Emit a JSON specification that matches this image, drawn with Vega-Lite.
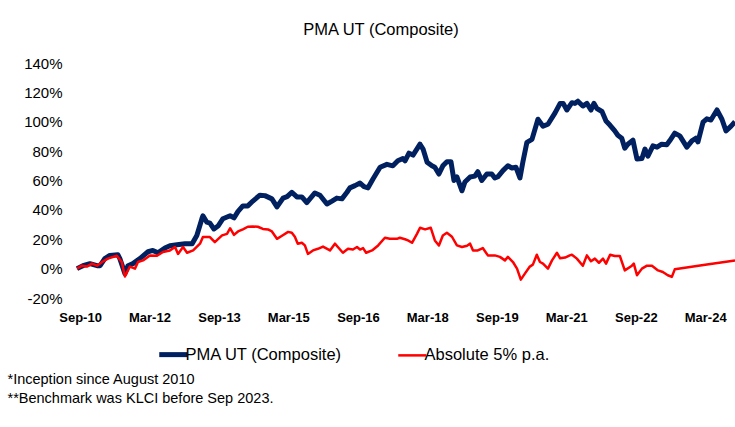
{
  "$schema": "https://vega.github.io/schema/vega-lite/v6.json",
  "autosize": {"type": "none"},
  "width": 658,
  "height": 235,
  "padding": {"left": 77, "top": 63, "right": 0, "bottom": 129},
  "background": "white",
  "config": {"font": "Liberation Sans", "view": {"stroke": null}},
  "title": {"text": "PMA UT (Composite)", "fontSize": 16.5, "fontWeight": "normal", "color": "#000000", "offset": 18, "dx": -25},
  "datasets": {
    "pma": [
      {"d":"2010-08-08","v":0},{"d":"2010-09-24","v":2},{"d":"2010-11-18","v":3.4},{"d":"2011-01-13","v":2},{"d":"2011-02-06","v":2},
      {"d":"2011-03-15","v":6.8},{"d":"2011-04-24","v":9},{"d":"2011-06-26","v":9.5},{"d":"2011-07-12","v":6.8},{"d":"2011-08-21","v":-3.4},
      {"d":"2011-09-14","v":2},{"d":"2011-10-23","v":3.4},{"d":"2011-12-17","v":6.8},{"d":"2012-02-19","v":11.5},{"d":"2012-03-28","v":12.4},
      {"d":"2012-05-07","v":10.8},{"d":"2012-07-01","v":14},{"d":"2012-08-10","v":15.6},{"d":"2012-10-05","v":16.3},{"d":"2012-12-07","v":17},
      {"d":"2013-02-01","v":17},{"d":"2013-03-10","v":22.6},{"d":"2013-04-19","v":34},{"d":"2013-04-27","v":36},{"d":"2013-05-28","v":31.6},
      {"d":"2013-06-21","v":31},{"d":"2013-07-23","v":27},{"d":"2013-08-24","v":29},{"d":"2013-10-02","v":34},{"d":"2013-11-27","v":36},
      {"d":"2013-12-28","v":34.6},{"d":"2014-01-29","v":39},{"d":"2014-03-08","v":42.7},{"d":"2014-04-16","v":42.7},{"d":"2014-05-26","v":46},
      {"d":"2014-07-20","v":50},{"d":"2014-08-29","v":49.7},{"d":"2014-10-23","v":47.5},{"d":"2014-12-02","v":42},{"d":"2015-01-19","v":48},
      {"d":"2015-02-20","v":49},{"d":"2015-03-29","v":52},{"d":"2015-05-08","v":48.8},{"d":"2015-06-16","v":48.8},{"d":"2015-07-25","v":45},
      {"d":"2015-09-27","v":51.5},{"d":"2015-11-06","v":50},{"d":"2015-12-31","v":44},{"d":"2016-02-09","v":46},{"d":"2016-03-18","v":48},
      {"d":"2016-04-27","v":47.5},{"d":"2016-06-06","v":52},{"d":"2016-06-29","v":55},{"d":"2016-08-08","v":56.5},{"d":"2016-09-17","v":58.3},
      {"d":"2016-10-18","v":55.8},{"d":"2016-11-19","v":55},{"d":"2016-12-28","v":61},{"d":"2017-02-22","v":69},{"d":"2017-04-17","v":71},
      {"d":"2017-06-03","v":70},{"d":"2017-07-12","v":73.4},{"d":"2017-08-21","v":75},{"d":"2017-09-07","v":73.4},{"d":"2017-10-08","v":78.6},
      {"d":"2017-11-09","v":77.3},{"d":"2018-01-03","v":84.7},{"d":"2018-01-27","v":81.4},{"d":"2018-02-28","v":72.5},{"d":"2018-04-07","v":70},
      {"d":"2018-04-30","v":69},{"d":"2018-06-01","v":64.4},{"d":"2018-07-02","v":70},{"d":"2018-08-03","v":72.8},{"d":"2018-09-04","v":72.8},
      {"d":"2018-09-28","v":60},{"d":"2018-10-21","v":62.4},{"d":"2018-11-30","v":53},{"d":"2018-12-23","v":59},{"d":"2019-02-02","v":62.4},
      {"d":"2019-03-11","v":63},{"d":"2019-04-04","v":66},{"d":"2019-05-05","v":60},{"d":"2019-06-14","v":64.4},{"d":"2019-07-23","v":64.4},
      {"d":"2019-08-16","v":61.7},{"d":"2019-09-10","v":62.6},{"d":"2019-10-19","v":66.7},{"d":"2019-11-27","v":70},{"d":"2019-12-29","v":68.5},
      {"d":"2020-01-30","v":69},{"d":"2020-03-01","v":61.7},{"d":"2020-03-24","v":72.5},{"d":"2020-04-25","v":86},{"d":"2020-06-04","v":88},
      {"d":"2020-07-21","v":101.7},{"d":"2020-08-30","v":97},{"d":"2020-10-08","v":98.3},{"d":"2020-12-03","v":106},{"d":"2021-01-12","v":112.5},
      {"d":"2021-02-05","v":112.5},{"d":"2021-03-06","v":108},{"d":"2021-04-15","v":113},{"d":"2021-05-08","v":112.5},{"d":"2021-06-01","v":114},
      {"d":"2021-07-10","v":110.7},{"d":"2021-08-11","v":112.5},{"d":"2021-09-12","v":108},{"d":"2021-10-05","v":112.5},{"d":"2021-10-29","v":109},
      {"d":"2021-12-08","v":107},{"d":"2022-01-09","v":100.5},{"d":"2022-02-10","v":97.6},{"d":"2022-03-19","v":93.8},{"d":"2022-04-12","v":90.8},
      {"d":"2022-05-13","v":88.8},{"d":"2022-06-06","v":82},{"d":"2022-06-30","v":84.7},{"d":"2022-08-09","v":87.5},{"d":"2022-09-10","v":74.6},
      {"d":"2022-10-19","v":75},{"d":"2022-11-12","v":81.4},{"d":"2022-12-05","v":76.6},{"d":"2023-01-14","v":83.6},{"d":"2023-02-15","v":82.7},
      {"d":"2023-03-24","v":84.7},{"d":"2023-05-03","v":84.3},{"d":"2023-05-26","v":87},{"d":"2023-07-05","v":92.2},{"d":"2023-08-14","v":90.4},
      {"d":"2023-10-08","v":82.7},{"d":"2023-11-17","v":87},{"d":"2023-12-18","v":88.8},{"d":"2024-01-04","v":86.3},{"d":"2024-02-13","v":99.7},
      {"d":"2024-03-14","v":102},{"d":"2024-04-15","v":101.2},{"d":"2024-06-02","v":108},{"d":"2024-07-11","v":101.7},{"d":"2024-08-12","v":93.8},
      {"d":"2024-09-21","v":97},{"d":"2024-10-22","v":100}
    ],
    "abs": [
      {"d":"2010-08-08","v":0},{"d":"2010-09-16","v":2},{"d":"2010-10-25","v":1.4},{"d":"2010-12-04","v":3.4},{"d":"2011-01-13","v":2},
      {"d":"2011-02-22","v":4.5},{"d":"2011-04-08","v":6.8},{"d":"2011-06-18","v":8.8},{"d":"2011-07-27","v":4.5},{"d":"2011-08-21","v":-5.4},
      {"d":"2011-09-29","v":1.4},{"d":"2011-11-08","v":0},{"d":"2011-12-02","v":4.5},{"d":"2012-01-11","v":5.6},{"d":"2012-03-05","v":9},
      {"d":"2012-04-30","v":8.8},{"d":"2012-06-16","v":11.3},{"d":"2012-08-10","v":12.4},{"d":"2012-09-19","v":14.7},{"d":"2012-10-13","v":10},
      {"d":"2012-11-21","v":14.7},{"d":"2012-12-23","v":10.8},{"d":"2013-02-09","v":12.4},{"d":"2013-04-04","v":17},{"d":"2013-04-27","v":21.5},
      {"d":"2013-06-21","v":21.5},{"d":"2013-07-30","v":18},{"d":"2013-09-25","v":22.6},{"d":"2013-11-03","v":23.7},{"d":"2013-11-27","v":27.5},
      {"d":"2013-12-28","v":23},{"d":"2014-01-29","v":25.3},{"d":"2014-03-08","v":26.7},{"d":"2014-04-16","v":28.5},{"d":"2014-05-26","v":28.7},
      {"d":"2014-07-04","v":28.5},{"d":"2014-08-13","v":27},{"d":"2014-09-22","v":26.7},{"d":"2014-10-23","v":25.3},{"d":"2014-12-02","v":20.3},
      {"d":"2015-01-11","v":22.4},{"d":"2015-02-28","v":25},{"d":"2015-03-29","v":24.4},{"d":"2015-04-22","v":21.7},{"d":"2015-05-15","v":17},
      {"d":"2015-06-16","v":17.6},{"d":"2015-07-10","v":15.8},{"d":"2015-08-03","v":10},{"d":"2015-09-12","v":12.4},{"d":"2015-10-21","v":13.5},
      {"d":"2015-11-30","v":15},{"d":"2016-01-24","v":12.4},{"d":"2016-03-03","v":17},{"d":"2016-03-26","v":14.7},{"d":"2016-05-05","v":10.8},
      {"d":"2016-06-14","v":13.5},{"d":"2016-07-23","v":13},{"d":"2016-08-24","v":14.7},{"d":"2016-09-17","v":13},{"d":"2016-10-11","v":14},
      {"d":"2016-11-04","v":10.8},{"d":"2016-12-21","v":12.4},{"d":"2017-02-07","v":15.8},{"d":"2017-04-01","v":21},{"d":"2017-05-10","v":20.3},
      {"d":"2017-07-05","v":20.3},{"d":"2017-07-28","v":21},{"d":"2017-09-07","v":20},{"d":"2017-09-30","v":19.2},{"d":"2017-11-01","v":17.6},
      {"d":"2017-12-10","v":23.7},{"d":"2018-01-03","v":27.8},{"d":"2018-02-12","v":26.7},{"d":"2018-03-29","v":27.8},{"d":"2018-04-30","v":19.2},
      {"d":"2018-06-01","v":15.8},{"d":"2018-07-02","v":22.6},{"d":"2018-08-03","v":24.4},{"d":"2018-09-12","v":21.7},{"d":"2018-10-21","v":15.8},
      {"d":"2018-11-30","v":14.7},{"d":"2019-01-09","v":15.6},{"d":"2019-02-02","v":17},{"d":"2019-02-25","v":12.4},{"d":"2019-04-04","v":12.4},
      {"d":"2019-05-13","v":14},{"d":"2019-06-22","v":9},{"d":"2019-08-16","v":9},{"d":"2019-09-25","v":8},{"d":"2019-11-04","v":5.6},
      {"d":"2019-11-27","v":8},{"d":"2020-01-06","v":4.5},{"d":"2020-02-07","v":0},{"d":"2020-03-08","v":-7.5},{"d":"2020-04-09","v":-3.4},
      {"d":"2020-05-18","v":1.4},{"d":"2020-06-11","v":2.7},{"d":"2020-07-12","v":9.5},{"d":"2020-08-06","v":4.5},{"d":"2020-08-30","v":3.4},
      {"d":"2020-10-08","v":0},{"d":"2020-11-09","v":5.6},{"d":"2020-12-18","v":10.8},{"d":"2021-01-12","v":7},{"d":"2021-02-20","v":7.5},
      {"d":"2021-03-29","v":9},{"d":"2021-04-15","v":9.5},{"d":"2021-05-24","v":6.8},{"d":"2021-07-10","v":2},{"d":"2021-08-11","v":9},
      {"d":"2021-09-12","v":5},{"d":"2021-10-13","v":6.8},{"d":"2021-11-14","v":4},{"d":"2021-12-16","v":6.8},{"d":"2022-01-09","v":3.4},
      {"d":"2022-02-10","v":9.5},{"d":"2022-03-19","v":8.6},{"d":"2022-04-28","v":8.6},{"d":"2022-06-06","v":-1.2},{"d":"2022-08-01","v":2},
      {"d":"2022-08-16","v":3.4},{"d":"2022-09-10","v":-4.5},{"d":"2022-10-19","v":0},{"d":"2022-11-28","v":2},{"d":"2023-01-06","v":2},
      {"d":"2023-02-23","v":-1.2},{"d":"2023-04-02","v":-2.3},{"d":"2023-05-11","v":-4.5},{"d":"2023-06-12","v":-5.6},{"d":"2023-07-05","v":-0.5},
      {"d":"2024-03-01","v":2.6},{"d":"2024-10-22","v":5.6}
    ]
  },
  "encoding": {
    "x": {
      "field": "d", "type": "temporal",
      "scale": {"type": "utc", "domain": ["2010-08-08", "2024-10-22"], "nice": false},
      "axis": {
        "values": [
          {"year": 2010, "month": 9, "date": 1, "utc": true},
          {"year": 2012, "month": 3, "date": 1, "utc": true},
          {"year": 2013, "month": 9, "date": 1, "utc": true},
          {"year": 2015, "month": 3, "date": 1, "utc": true},
          {"year": 2016, "month": 9, "date": 1, "utc": true},
          {"year": 2018, "month": 3, "date": 1, "utc": true},
          {"year": 2019, "month": 9, "date": 1, "utc": true},
          {"year": 2021, "month": 3, "date": 1, "utc": true},
          {"year": 2022, "month": 9, "date": 1, "utc": true},
          {"year": 2024, "month": 3, "date": 1, "utc": true}
        ],
        "labelExpr": "utcFormat(datum.value, '%b-%y')",
        "domain": false, "ticks": false, "grid": false,
        "labelFontSize": 13, "labelFontWeight": "bold", "labelColor": "#000000",
        "labelPadding": 13, "labelFlush": false, "labelOverlap": false,
        "title": ["*Inception since August 2010", "**Benchmark was KLCI before Sep 2023."],
        "titleAnchor": "start", "titleAlign": "left", "titleBaseline": "top",
        "titleX": -70, "titleY": 74, "titleFontSize": 14.5, "titleFontWeight": "normal",
        "titleColor": "#000000", "titleLineHeight": 19
      }
    },
    "y": {
      "field": "v", "type": "quantitative",
      "scale": {"domain": [-20, 140], "nice": false, "zero": false},
      "axis": {
        "values": [-20, 0, 20, 40, 60, 80, 100, 120, 140],
        "labelExpr": "datum.value + '%'",
        "domain": false, "ticks": false, "grid": false,
        "labelFontSize": 15, "labelColor": "#000000", "labelPadding": 15,
        "title": null
      }
    }
  },
  "layer": [
    {
      "mark": {"type": "rule", "color": "#bfbfbf", "strokeWidth": 1.5},
      "encoding": {"y": {"datum": 0}, "x": null}
    },
    {
      "data": {"name": "pma"},
      "mark": {"type": "line", "strokeWidth": 5, "strokeJoin": "round"},
      "encoding": {
        "color": {
          "datum": "PMA UT (Composite)",
          "scale": {"domain": ["PMA UT (Composite)", "Absolute 5% p.a."], "range": ["#002060", "#ff0000"]},
          "legend": {
            "orient": "none", "legendX": 88, "legendY": 283, "direction": "horizontal",
            "title": null, "symbolType": "stroke", "symbolSize": 784, "symbolStrokeWidth": 4,
            "labelFontSize": 16.5, "labelColor": "#000000", "labelOffset": 4, "columnPadding": 50,
            "labelLimit": 300,
            "encode": {"symbols": {"update": {"strokeWidth": {"signal": "datum.value === 'PMA UT (Composite)' ? 5 : 2.5"}}}}
          }
        }
      }
    },
    {
      "data": {"name": "abs"},
      "mark": {"type": "line", "strokeWidth": 2.5, "strokeJoin": "round"},
      "encoding": {"color": {"datum": "Absolute 5% p.a."}}
    }
  ]
}
